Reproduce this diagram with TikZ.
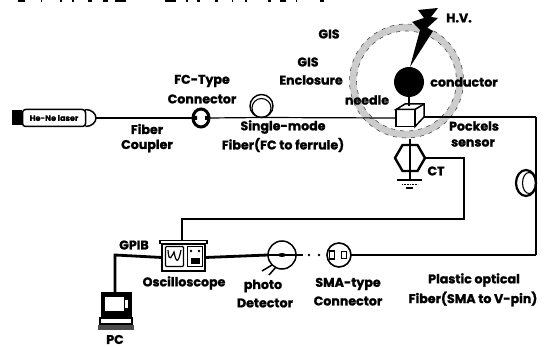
\documentclass[tikz,border=0pt]{standalone}
\usepackage{fontspec}
\setmainfont{Poppins}[BoldFeatures={FakeBold=1.3}]
\usetikzlibrary{shapes.geometric}
\tikzset{
  lbl/.style={font=\bfseries\fontsize{12.6}{14}\selectfont,inner sep=0pt,text=black},
  thinfib/.style={line width=1.2pt,black},
  medfib/.style={line width=1.7pt,black},
  thickfib/.style={line width=2.8pt,black},
  pt/.style={inner sep=0pt,minimum size=0pt,outer sep=0pt}
}
\begin{document}
\begin{tikzpicture}[x=1pt,y=-1pt]
\useasboundingbox (0,0) rectangle (545,347);
% cropped glyph remnants at the top edge
\foreach \a/\b in {18/25,41/42,60/62,72/74,88/92,103/108,115/126,165/176,186/188,197/200,215/218,232/233,245/247,268/271,280/286,296/297,320/324}
  \draw[line width=1.6pt] (\a,1) -- (\b,1);
% GIS ring
\coordinate (ringc) at (406.5,81);
\draw[line width=7pt,black!20] (ringc) circle (53.5);
\draw[line width=.6pt,black!70,dash pattern=on 4pt off 5pt] (ringc) circle (57);
\draw[line width=.6pt,black!70,dash pattern=on 4pt off 5pt] (ringc) circle (50);
% named anchor points
\coordinate (lasEnd) at (96,118);
\coordinate (fiberMid) at (130,118);
\coordinate (cubeR) at (424,117);
\coordinate (cornerA) at (536,117);
\coordinate (cornerB) at (536,255);
\coordinate (sc1) at (182,219);
\coordinate (sc2) at (464,219);
\coordinate (sc3) at (464,158);
\coordinate (gp1) at (115,255);
% laser
\node[pt,fill=black,minimum width=10pt,minimum height=15pt] (lasTail) at (17,118) {};
\node[pt,draw,line width=1.5pt,rounded corners=3pt,minimum width=63pt,minimum height=17pt] (laser) at (54,118) {};
\draw[line width=1.5pt] (85.5,109.5) .. controls (92,109.5) and (96,114) .. (96,118) .. controls (96,122) and (92,126.5) .. (85.5,126.5);
\draw[line width=1.2pt] (85.5,109.5) -- (85.5,126.5);
\node[font=\bfseries\fontsize{8}{9}\selectfont,inner sep=0pt] (lasertxt) at (54,118) {He-Ne laser};
% FC connector
\node[pt,draw,ellipse,line width=3pt,minimum width=16pt,minimum height=18pt,fill=white] (fc) at (201,118) {};
\fill (193,116) rectangle (197,120) (205,116) rectangle (209,120);
% coil 1
\node[pt,draw,circle,line width=1.4pt,minimum size=23pt,fill=white] (coilA) at (261.5,106) {};
\node[pt,draw,circle,line width=1.1pt,minimum size=19pt] (coilAi) at (261.5,108) {};
% sensor cube
\node[pt,draw,line width=1.6pt,fill=white,minimum width=19pt,minimum height=17pt] (cube) at (405.5,118) {};
\draw[line width=1.5pt,fill=white] (cube.north west) -- (405,104) -- (424,104) -- (424,117) -- (cube.south east) -- (cube.north east) -- cycle;
\draw[line width=1.5pt] (cube.north east) -- (424,104);
% fibre runs
\draw[medfib] (lasEnd) -- (fiberMid);
\draw[thickfib] (fiberMid) -- (fc.west);
\draw[thinfib] (fc.east) -- (coilA.south) -- (cube.west);
\draw[medfib] (cubeR) -- (cornerA);
% conductor, needle, bolt
\node[pt,circle,fill=black,minimum size=30pt] (cond) at (409,82) {};
\draw[line width=2pt] (cond.south) -- (409,106);
\fill (410,67) -- (433,31) -- (427,28) -- (438,18) -- (431,17) -- (438,8) -- (418,10) -- (424,18) -- (412,22) -- (420,30) -- cycle;
% CT
\node[pt,draw,regular polygon,regular polygon sides=6,line width=2.4pt,minimum size=30pt,fill=white] (ct) at (410,158) {};
\coordinate (gnd) at (410,180);
\coordinate (ringb) at (410,139);
\draw[line width=1.2pt] (ringb) -- (gnd);
\draw[line width=1.3pt] (397,180) -- (422,180);
\draw[line width=.9pt,dash pattern=on 1pt off .6pt] (402,184) -- (418,184);
\draw[line width=1.2pt] (406,188) -- (413,188);
\draw[thinfib] (ct.east) -- (sc3) -- (sc2) -- (sc1) -- (182,240);
% coil 2
\node[pt,draw,ellipse,line width=2.2pt,minimum width=20pt,minimum height=26pt,fill=white] (coilB) at (526,183) {};
\node[pt,draw,ellipse,line width=1.1pt,minimum width=13pt,minimum height=21pt] (coilBi) at (529,183) {};
\draw[medfib] (cornerA) -- (cornerB);
% oscilloscope
\node[pt,draw,line width=1.5pt,fill=white,minimum width=43pt,minimum height=27pt] (scope) at (183.5,257.5) {};
\node[pt,draw,line width=1.5pt,fill=white,minimum width=47pt,minimum height=3pt] (scopeTop) at (183.5,242) {};
\node[pt,draw,line width=1.4pt,rounded corners=1pt,minimum width=18pt,minimum height=20pt] (screen) at (174.5,256.5) {};
\draw[line width=1.2pt] (168,250) .. controls (169,265) and (172,255) .. (174,252) .. controls (176,262) and (178,265) .. (181,250);
\node[pt,draw,line width=1.2pt,minimum width=15pt,minimum height=20pt] (panel) at (195,256.5) {};
\node[pt,fill=black,minimum width=9pt,minimum height=6pt] (knobs) at (195,261) {};
\fill (191,251) circle (1.3) (199,251) circle (1.3);
% detector
\node[pt,draw,circle,line width=1.5pt,fill=white,minimum size=28pt] (det) at (282,255) {};
\draw[thickfib] (scope.east) -- (det.west);
\draw[line width=1.7pt] (det.west) -- (det.east) -- (303,255);
\fill (282,255) ellipse (4 and 2);
\draw[line width=1.5pt] (272,265) -- (262,271);
\draw[line width=1.5pt] (276,267) -- (269,275);
\foreach \x in {309,319,329} \fill (\x,255) circle (1.3);
% SMA connector
\node[pt,draw,circle,line width=1.6pt,fill=white,minimum size=24pt] (sma) at (339,255) {};
\node[pt,draw,line width=1.2pt,minimum width=5pt,minimum height=8pt] (smaA) at (332,255) {};
\node[pt,draw,line width=1.2pt,minimum width=5pt,minimum height=7pt] (smaB) at (344,255) {};
\draw[medfib] (cornerB) -- (sma.east);
% PC
\node[pt,draw,fill=black,line width=.5pt,minimum width=30pt,minimum height=26pt] (pcTop) at (116,305) {};
\node[pt,fill=white,minimum width=19pt,minimum height=14pt] (pcScreen) at (114.5,304) {};
\node[pt,fill=white,minimum width=2.5pt,minimum height=8pt] (pcBtn) at (126.5,304) {};
\node[pt,draw,fill=white,line width=1.4pt,minimum width=32pt,minimum height=6pt] (pcMid) at (116,321) {};
\node[pt,fill=black!70,minimum width=36pt,minimum height=5pt] (pcBase) at (116,327.5) {};
\draw[thickfib] (scope.west) -- (gp1) -- (pcTop.north -| gp1);
% labels
\node[lbl] (t1) at (147,129) {Fiber};
\node[lbl] (t2) at (147,146) {Coupler};
\node[lbl] (t3) at (202,81) {FC-Type};
\node[lbl] (t4) at (202,99) {Connector};
\node[lbl] (t5) at (283,127) {Single-mode};
\node[lbl] (t6) at (283,145) {Fiber(FC to ferrule)};
\node[lbl] (t7) at (329,34) {GIS};
\node[lbl] (t8) at (308,62) {GIS};
\node[lbl] (t9) at (311,80) {Enclosure};
\node[lbl] (t10) at (367,100) {needle};
\node[lbl] (t11) at (464,82) {conductor};
\node[lbl] (t12) at (459,18) {H.V.};
\node[lbl] (t13) at (474,126) {Pockels};
\node[lbl] (t14) at (473,143) {sensor};
\node[lbl] (t15) at (436,171) {CT};
\node[lbl] (t16) at (134,245) {GPIB};
\node[lbl] (t17) at (184,283) {Oscilloscope};
\node[lbl] (t18) at (115,339.5) {PC};
\node[lbl] (t19) at (263,286) {photo};
\node[lbl] (t20) at (265,303) {Detector};
\node[lbl] (t21) at (348,284) {SMA-type};
\node[lbl] (t22) at (348,301) {Connector};
\node[lbl] (t23) at (474,280) {Plastic optical};
\node[lbl] (t24) at (473,299) {Fiber(SMA to V-pin)};
\end{tikzpicture}
\end{document}
